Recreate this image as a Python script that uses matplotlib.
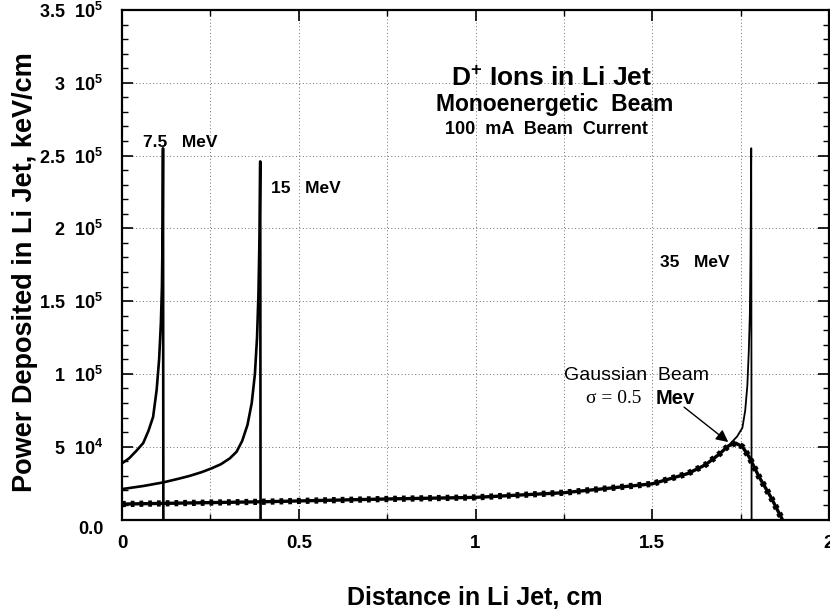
import matplotlib
matplotlib.use("Agg")
import matplotlib.pyplot as plt
from matplotlib.ticker import MultipleLocator, FixedLocator
import matplotlib.transforms as mtransforms

plt.rcParams['font.family'] = ['Liberation Sans', 'DejaVu Sans']
plt.rcParams['font.weight'] = 'bold'
plt.rcParams['mathtext.fontset'] = 'custom'
plt.rcParams['mathtext.rm'] = 'Liberation Sans:bold'
plt.rcParams['mathtext.it'] = 'Liberation Sans:bold'
plt.rcParams['mathtext.bf'] = 'Liberation Sans:bold'
plt.rcParams['mathtext.default'] = 'rm'

# ---- data (distance in cm, power in keV/cm) ----
x_75 = [0.0, 0.02, 0.04, 0.06, 0.075, 0.088, 0.098, 0.105, 0.110, 0.113, 0.115, 0.116, 0.117]
y_75 = [3.86e4, 4.2e4, 4.7e4, 5.25e4, 6.1e4, 7.05e4, 8.9e4, 1.1e5, 1.35e5, 1.6e5, 2.0e5,
        2.55e5, 0.0]

x_15 = [0.0, 0.06, 0.117, 0.16, 0.192, 0.225, 0.253, 0.28, 0.305, 0.324, 0.34, 0.355,
        0.367, 0.376, 0.382, 0.386, 0.389, 0.391, 0.392]
y_15 = [2.09e4, 2.3e4, 2.55e4, 2.8e4, 3.0e4, 3.25e4, 3.51e4, 3.8e4, 4.2e4, 4.65e4, 5.4e4,
        6.5e4, 8.0e4, 1.0e5, 1.25e5, 1.55e5, 1.95e5, 2.46e5, 0.0]

x_35 = [0.0, 0.395, 0.752, 1.0, 1.256, 1.506, 1.614, 1.671, 1.708, 1.74, 1.755, 1.763,
        1.769, 1.773, 1.776, 1.778, 1.779, 1.780, 1.781]
y_35 = [1.06e4, 1.22e4, 1.41e4, 1.52e4, 1.84e4, 2.48e4, 3.28e4, 4.08e4, 4.89e4, 5.7e4,
        6.3e4, 7.5e4, 9.2e4, 1.15e5, 1.4e5, 1.8e5, 2.2e5, 2.55e5, 0.0]

x_gauss = [0.0, 0.4, 0.75, 1.0, 1.25, 1.5, 1.6, 1.65, 1.69, 1.715, 1.736, 1.755, 1.774,
           1.802, 1.835, 1.868]
y_gauss = [1.06e4, 1.22e4, 1.41e4, 1.52e4, 1.84e4, 2.45e4, 3.15e4, 3.75e4, 4.5e4, 5.05e4,
           5.25e4, 5.0e4, 4.3e4, 2.94e4, 1.56e4, 0.0]

y_ticks = [0, 5e4, 1e5, 1.5e5, 2e5, 2.5e5, 3e5, 3.5e5]
y_ticklabels = ["0.0", r"$5\ \ 10^{4}$", r"$1\ \ 10^{5}$", r"$1.5\ \ 10^{5}$",
                r"$2\ \ 10^{5}$", r"$2.5\ \ 10^{5}$", r"$3\ \ 10^{5}$",
                r"$3.5\ \ 10^{5}$"]
x_ticks = [0, 0.5, 1, 1.5, 2]
x_ticklabels = ["0", "0.5", "1", "1.5", "2"]

fig = plt.figure(figsize=(8.3, 6.11), dpi=100)
ax = fig.add_axes([122 / 830, 1 - 519.5 / 611, (829 - 122) / 830, (519.5 - 10) / 611])

ax.set_xlim(0, 2)
ax.set_ylim(0, 3.5e5)

ax.xaxis.set_major_locator(FixedLocator(x_ticks))
ax.xaxis.set_minor_locator(MultipleLocator(0.25))
ax.yaxis.set_major_locator(FixedLocator(y_ticks))
ax.yaxis.set_minor_locator(MultipleLocator(1e4))
ax.grid(True, which='major', axis='both', linestyle=(0, (1, 2.5)), color='#707070', lw=0.7)
ax.grid(True, which='minor', axis='x', linestyle=(0, (1, 2.5)), color='#707070', lw=0.7)

ax.set_xticklabels(x_ticklabels, fontsize=13.5, fontweight='bold')
ax.set_yticklabels(y_ticklabels, fontsize=13)
ax.tick_params(axis='both', which='both', direction='in', top=True, right=True)
ax.tick_params(axis='both', which='major', length=8, width=1.2)
ax.tick_params(axis='both', which='minor', length=4, width=1.0)
ax.tick_params(axis='x', which='major', pad=11)
ax.tick_params(axis='y', which='major', pad=13)
for s in ax.spines.values():
    s.set_linewidth(1.6)

# shift "0.0" label down a bit
lab0 = ax.get_yticklabels()[0]
lab0.set_transform(lab0.get_transform() + mtransforms.ScaledTranslation(0, -8 / 100, fig.dpi_scale_trans))

# curves
ax.plot(x_75, y_75, color='black', lw=1.9, solid_joinstyle='round')
ax.plot(x_15, y_15, color='black', lw=1.9, solid_joinstyle='round')
ax.plot(x_35, y_35, color='black', lw=1.3, solid_joinstyle='round')
ax.plot(x_gauss, y_gauss, color='black', lw=2.4, solid_capstyle='round')
ax.plot(x_gauss, y_gauss, color='black', lw=4.5, linestyle=(0, (0.6, 0.8)))

# annotations
ax.text(1.215, 3.03e5, r"D$^{+}$ Ions in Li Jet", ha='center', va='center', fontsize=19)
ax.text(1.223, 2.85e5, "Monoenergetic  Beam", ha='center', va='center', fontsize=16.5)
ax.text(1.20, 2.68e5, "100  mA  Beam  Current", ha='center', va='center', fontsize=13)
ax.text(0.164, 2.59e5, "7.5   MeV", ha='center', va='center', fontsize=12.5)
ax.text(0.52, 2.275e5, "15   MeV", ha='center', va='center', fontsize=12.5)
ax.text(1.619, 1.767e5, "35   MeV", ha='center', va='center', fontsize=12.5)
ax.text(1.456, 9.92e4, "Gaussian  Beam", ha='center', va='center', fontsize=14,
        fontweight='normal')
ax.text(1.39, 8.34e4, "σ = 0.5", ha='center', va='center', fontsize=14,
        family=['Liberation Serif', 'DejaVu Serif'], fontweight='normal')
ax.text(1.565, 8.34e4, "Mev", ha='center', va='center', fontsize=14.5)
ax.annotate("", xy=(1.715, 5.32e4), xytext=(1.59, 7.72e4),
            arrowprops=dict(arrowstyle='-|>', color='black', lw=1.0, mutation_scale=18,
                            shrinkA=0, shrinkB=0))

fig.text(25 / 830, 1 - 272 / 611, "Power Deposited in Li Jet, keV/cm", rotation=90,
         ha='center', va='center', fontsize=19.5, fontweight='bold')
fig.text(475 / 830, 1 - 598 / 611, "Distance in Li Jet, cm", ha='center', va='center',
         fontsize=18, fontweight='bold')

fig.savefig("out.png", dpi=100)
